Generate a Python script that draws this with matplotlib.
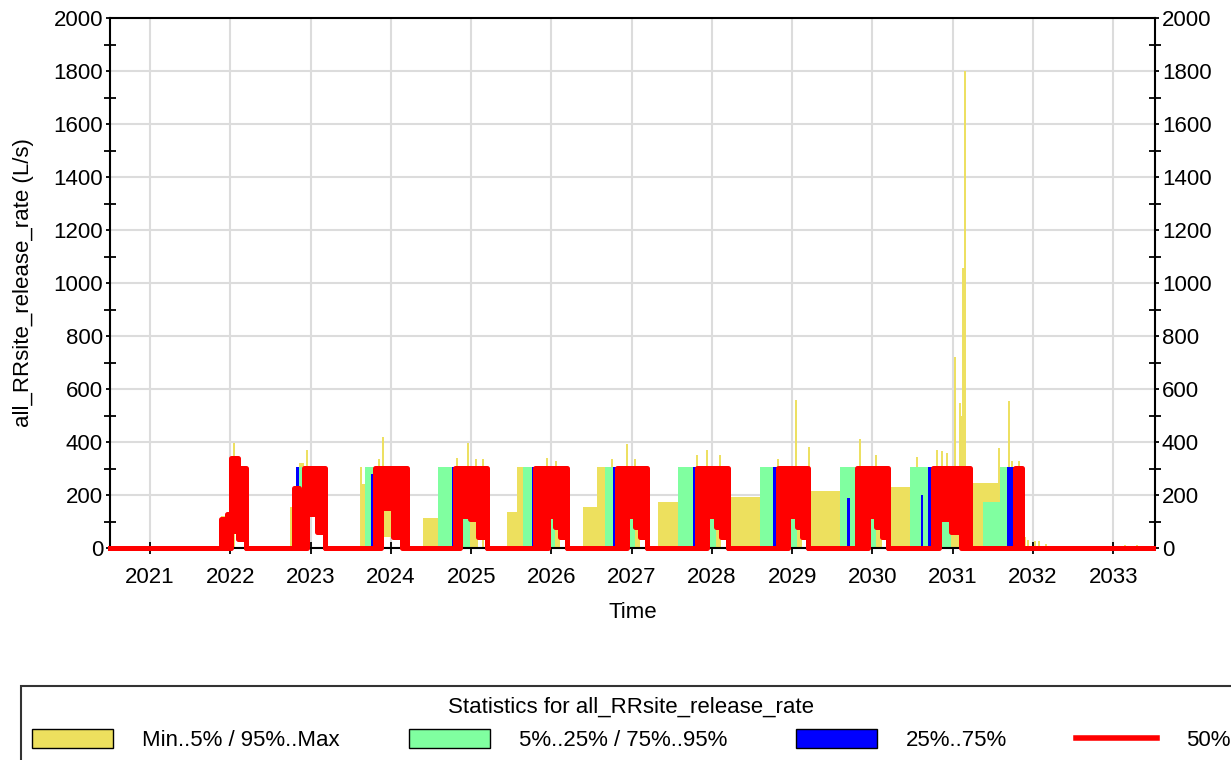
import numpy as np
import matplotlib
matplotlib.use('Agg')
from matplotlib import pyplot as plt
from matplotlib.patches import Patch
from matplotlib.lines import Line2D

plt.rcParams['font.family'] = ['Liberation Sans', 'DejaVu Sans']

# percentile histories as step series (value holds until the next time)
# columns: min, 5%, 25%, 50% low, 50% high, 75%, 95%, max
time = [2020.50,
        2021.884, 2021.960, 2022.009, 2022.096, 2022.196,
        2022.743, 2022.780, 2022.793, 2022.818, 2022.856, 2022.918, 2022.955, 2023.080, 2023.179,
        2023.628, 2023.677, 2023.752, 2023.802, 2023.877, 2024.026, 2024.138, 2024.200, 2024.215,
        2024.400, 2024.587, 2024.761, 2024.798, 2024.861, 2024.985, 2025.085, 2025.197,
        2025.446, 2025.570, 2025.645, 2025.757, 2025.795, 2025.956, 2026.044, 2026.106, 2026.193,
        2026.392, 2026.567, 2026.666, 2026.766, 2026.816, 2026.940, 2027.040, 2027.100, 2027.189,
        2027.326, 2027.575, 2027.762, 2027.812, 2027.936, 2028.050, 2028.110, 2028.198,
        2028.210, 2028.597, 2028.758, 2028.821, 2028.945, 2029.057, 2029.120,
        2029.194, 2029.593, 2029.680, 2029.720, 2029.804, 2029.830, 2029.940, 2030.050, 2030.120, 2030.191,
        2030.215, 2030.465, 2030.600, 2030.625, 2030.689, 2030.751, 2030.830, 2030.980, 2031.100,
        2031.212, 2031.374, 2031.585, 2031.672, 2031.772, 2031.859,
        2033.50]
p_min = [0,
         0, 0, 65, 35, 0,
         0, 0, 0, 0, 0, 0, 130, 60, 0,
         0, 0, 0, 0, 40, 40, 0, 0, 0,
         0, 0, 0, 0, 0, 0, 40, 0,
         0, 0, 0, 0, 0, 0, 0, 40, 0,
         0, 0, 0, 0, 0, 0, 0, 40, 0,
         0, 0, 0, 0, 0, 0, 40, 0,
         0, 0, 0, 0, 0, 0, 40,
         0, 0, 0, 0, 0, 0, 0, 0, 40, 0,
         0, 0, 0, 0, 0, 0, 0, 0, 0,
         0, 0, 0, 0, 0, 0,
         0]
p5 = [0,
      0, 0, 65, 35, 0,
      0, 0, 0, 0, 0, 0, 130, 60, 0,
      0, 0, 0, 0, 150, 40, 0, 0, 0,
      0, 0, 0, 0, 0, 110, 40, 0,
      0, 0, 0, 0, 0, 0, 80, 40, 0,
      0, 0, 0, 0, 0, 0, 80, 40, 0,
      0, 0, 0, 0, 0, 80, 40, 0,
      0, 0, 0, 0, 0, 80, 40,
      0, 0, 0, 0, 0, 0, 0, 80, 40, 0,
      0, 0, 0, 0, 0, 0, 0, 60, 0,
      0, 0, 0, 0, 0, 0,
      0]
p25 = [0,
       0, 0, 65, 35, 0,
       0, 0, 0, 0, 0, 0, 130, 60, 0,
       0, 0, 0, 0, 150, 40, 0, 0, 0,
       0, 0, 0, 0, 120, 110, 40, 0,
       0, 0, 0, 0, 0, 120, 80, 40, 0,
       0, 0, 0, 0, 0, 120, 80, 40, 0,
       0, 0, 0, 0, 120, 80, 40, 0,
       0, 0, 0, 0, 120, 80, 40,
       0, 0, 0, 0, 0, 0, 120, 80, 40, 0,
       0, 0, 0, 0, 0, 0, 110, 60, 0,
       0, 0, 0, 0, 0, 0,
       0]
p50_lo = [0,
          0, 0, 65, 35, 0,
          0, 0, 0, 0, 0, 0, 130, 60, 0,
          0, 0, 0, 0, 150, 40, 0, 0, 0,
          0, 0, 0, 0, 120, 110, 40, 0,
          0, 0, 0, 0, 0, 120, 80, 40, 0,
          0, 0, 0, 0, 0, 120, 80, 40, 0,
          0, 0, 0, 0, 120, 80, 40, 0,
          0, 0, 0, 0, 120, 80, 40,
          0, 0, 0, 0, 0, 0, 120, 80, 40, 0,
          0, 0, 0, 0, 0, 0, 110, 60, 0,
          0, 0, 0, 0, 0, 0,
          0]
p50_hi = [0,
          110, 130, 340, 302, 0,
          0, 0, 225, 225, 0, 302, 302, 302, 0,
          0, 0, 0, 302, 302, 302, 302, 0, 0,
          0, 0, 0, 302, 302, 302, 302, 0,
          0, 0, 0, 0, 302, 302, 302, 302, 0,
          0, 0, 0, 0, 302, 302, 302, 302, 0,
          0, 0, 0, 302, 302, 302, 302, 0,
          0, 0, 0, 302, 302, 302, 302,
          0, 0, 0, 0, 302, 302, 302, 302, 302, 0,
          0, 0, 0, 0, 0, 302, 302, 302, 302,
          0, 0, 0, 0, 302, 0,
          0]
p75 = [0,
       110, 130, 340, 302, 0,
       0, 0, 225, 305, 0, 305, 305, 305, 0,
       0, 0, 280, 305, 305, 305, 305, 0, 0,
       0, 0, 305, 305, 305, 305, 305, 0,
       0, 0, 0, 305, 305, 305, 305, 305, 0,
       0, 0, 0, 305, 305, 305, 305, 305, 0,
       0, 0, 305, 305, 305, 305, 305, 0,
       0, 0, 305, 305, 305, 305, 305,
       0, 0, 190, 0, 305, 305, 305, 305, 305, 0,
       0, 0, 200, 0, 305, 305, 305, 305, 305,
       0, 0, 0, 305, 305, 0,
       0]
p95 = [0,
       110, 130, 340, 302, 0,
       0, 0, 225, 305, 305, 305, 305, 305, 0,
       0, 305, 305, 305, 305, 305, 305, 0, 0,
       0, 305, 305, 305, 305, 305, 305, 0,
       0, 0, 305, 305, 305, 305, 305, 305, 0,
       0, 0, 305, 305, 305, 305, 305, 305, 0,
       0, 305, 305, 305, 305, 305, 305, 0,
       0, 305, 305, 305, 305, 305, 305,
       0, 305, 305, 305, 305, 305, 305, 305, 305, 0,
       0, 305, 305, 305, 305, 305, 305, 305, 305,
       0, 175, 305, 305, 305, 0,
       0]
p_max = [0,
         120, 130, 340, 302, 0,
         156, 0, 235, 305, 320, 305, 305, 305, 0,
         240, 305, 305, 305, 305, 305, 305, 113, 0,
         112, 305, 305, 305, 305, 305, 305, 0,
         137, 305, 305, 305, 305, 305, 305, 305, 0,
         154, 305, 305, 305, 305, 305, 305, 305, 0,
         175, 305, 305, 305, 305, 305, 305, 0,
         194, 305, 305, 305, 305, 305, 305,
         215, 305, 305, 305, 305, 305, 305, 305, 305, 0,
         229, 305, 305, 305, 305, 305, 305, 305, 305,
         244, 244, 305, 305, 305, 0,
         0]

# single-step peaks of the max curve
spike_time = [2022.046, 2022.960, 2023.628, 2023.850, 2023.897, 2024.820, 2024.957, 2025.060, 2025.147,
              2025.940, 2026.060, 2026.750, 2026.940, 2027.040, 2027.810, 2027.940, 2028.100, 2028.820,
              2029.053, 2029.210, 2029.843, 2030.040, 2030.560, 2030.800, 2030.860, 2030.930, 2031.025,
              2031.090, 2031.105, 2031.125, 2031.149, 2031.580, 2031.697, 2031.740, 2031.820, 2031.900,
              2031.940, 2032.020, 2032.080, 2032.160, 2033.150, 2033.300]
spike_value = [396, 370, 307, 336, 420, 338, 396, 336, 336,
               340, 330, 335, 392, 335, 351, 370, 351, 336,
               558, 382, 410, 351, 345, 370, 365, 360, 722,
               547, 500, 1057, 1800, 377, 556, 330, 330, 40,
               30, 25, 28, 15, 10, 12]

years = list(range(2021, 2034))

yellow = '#ede05e'
green = '#80ffa0'
blue = '#0000ff'
red = '#ff0000'

fig = plt.figure(figsize=(12.31, 7.6), dpi=100)
ax = fig.add_axes([110 / 1231, 1 - 548 / 760, 1045 / 1231, 530 / 760])

t = np.array(time)
ax.fill_between(t, p_min, p_max, step='post', color=yellow, lw=0, zorder=2)
ax.vlines(spike_time, 0, spike_value, color=yellow, lw=1.4, zorder=2.5)
ax.fill_between(t, p5, p95, step='post', color=green, lw=0, zorder=3)
ax.fill_between(t, p25, p75, step='post', color=blue, lw=0, zorder=4)
ax.fill_between(t, p50_lo, p50_hi, step='post', color=red, lw=0, zorder=5)
ax.step(t, p50_lo, where='post', color=red, lw=3.6, zorder=7, clip_on=False)
ax.step(t, p50_hi, where='post', color=red, lw=3.6, zorder=7, clip_on=False)

ax.set_xlim(2020.5, 2033.52)
ax.set_ylim(0, 2000)
ax.set_xticks(years)
ax.set_xticklabels([str(y) for y in years])
ax.set_yticks(np.arange(0, 2001, 200))
ax.set_yticks(np.arange(100, 2000, 200), minor=True)
ax.grid(True, which='major', color='#dcdcdc', lw=1.5, zorder=0)
ax.set_axisbelow(True)

for s in ax.spines.values():
    s.set_linewidth(1.5)
    s.set_zorder(6)

ax.tick_params(axis='y', which='major', direction='out', length=3, width=1.3, labelsize=16,
               left=True, right=True, labelleft=True, labelright=True, pad=2)
ax.tick_params(axis='y', which='minor', direction='inout', length=8, width=1.3, left=True, right=True)
ax.tick_params(axis='x', which='major', direction='inout', length=8, width=1.3, labelsize=16, pad=10)

ax.set_xlabel('Time', fontsize=16, labelpad=10)
ax.set_ylabel('all_RRsite_release_rate (L/s)', fontsize=16, labelpad=14)

handles = [Patch(facecolor=yellow, edgecolor='black', lw=1),
           Patch(facecolor=green, edgecolor='black', lw=1),
           Patch(facecolor=blue, edgecolor='black', lw=1),
           Line2D([0], [0], color=red, lw=4)]
labels = ['Min..5% / 95%..Max', '5%..25% / 75%..95%', '25%..75%', '50%']
leg = fig.legend(handles, labels, ncol=4, loc='upper left', bbox_to_anchor=(21 / 1231, 1 - 686 / 760),
                 title='Statistics for all_RRsite_release_rate', title_fontsize=16, fontsize=16,
                 frameon=True, fancybox=False, edgecolor='black', handlelength=3.65, handleheight=0.95,
                 handletextpad=1.3, columnspacing=3.1, borderaxespad=0, borderpad=0.5,
                 labelspacing=0.5)
leg.get_frame().set_linewidth(1.5)

fig.savefig('out.png', dpi=100)
